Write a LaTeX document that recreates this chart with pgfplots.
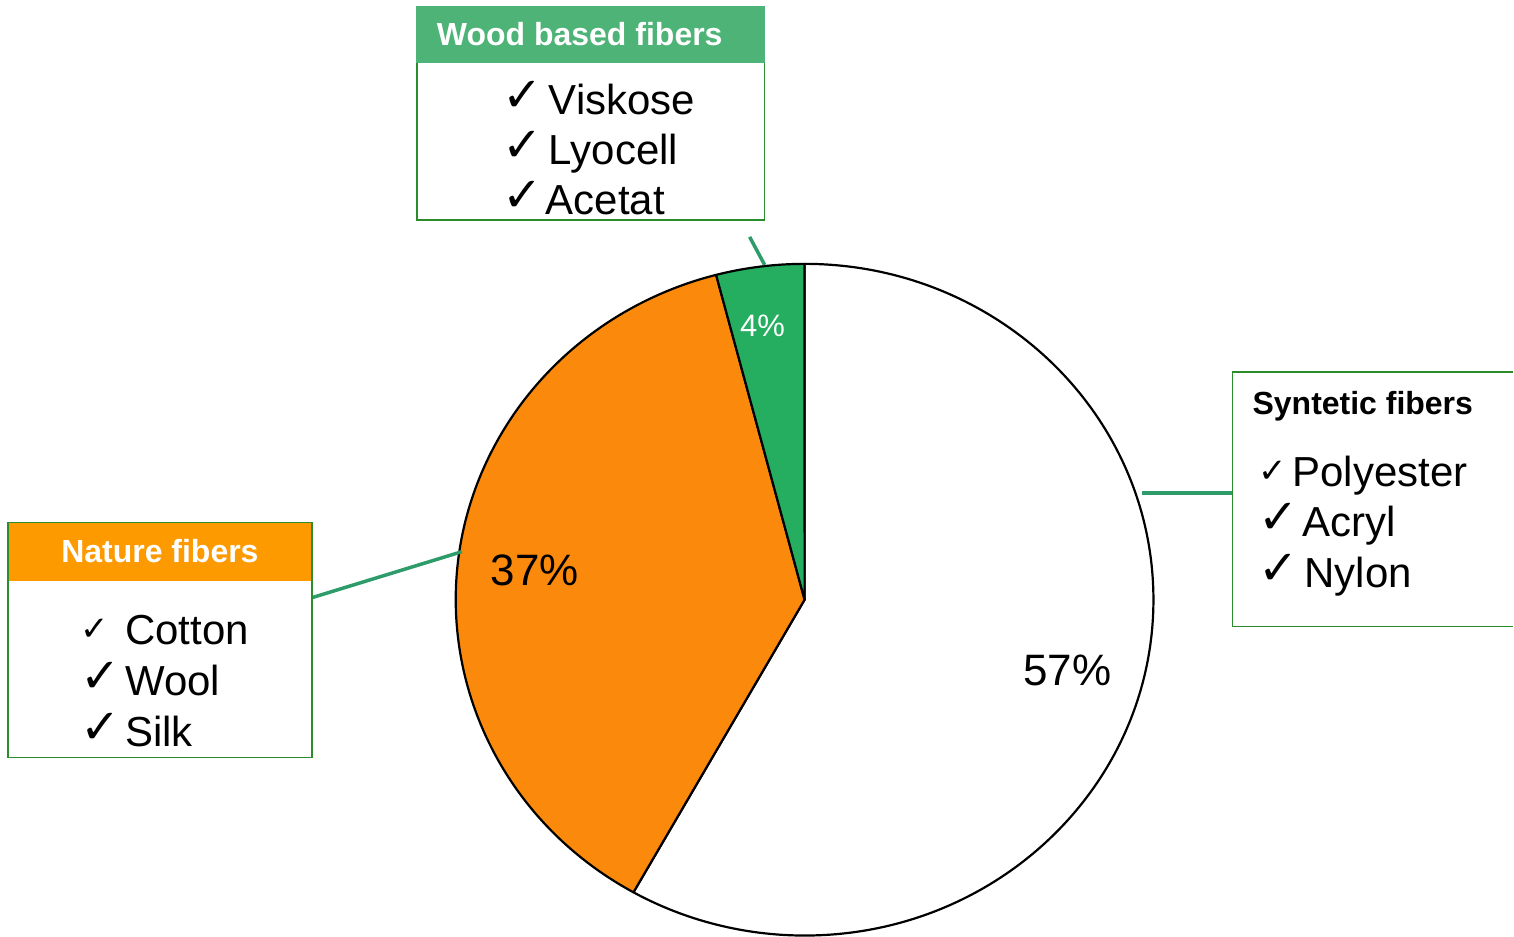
\documentclass[border=0pt]{standalone}
\usepackage{pgfplots}
\pgfplotsset{compat=1.18}
\usepackage{pgfplotstable}
\usepackage{fontspec}
\setmainfont{Liberation Sans}
\newfontfamily\symfont{DejaVu Sans}
\definecolor{pieorange}{HTML}{FB8A0C}
\definecolor{piegreen}{HTML}{25AE60}
\definecolor{headgreen}{HTML}{4DB376}
\definecolor{headorange}{HTML}{FD9A00}
\definecolor{linkgreen}{HTML}{2E9B6B}
\definecolor{boxgreen}{HTML}{2A8C2A}

\pgfplotstableread{
group share
Syntetic 57
Nature 37
Wood 4
}\piedata

\newcommand{\chk}[1]{{\symfont\fontsize{#1}{#1}\selectfont ✓}}

\begin{document}%
\pgfplotstablegetelem{0}{share}\of\piedata \let\sA\pgfplotsretval%
\pgfplotstablegetelem{1}{share}\of\piedata \let\sB\pgfplotsretval%
\pgfplotstablegetelem{2}{share}\of\piedata \let\sC\pgfplotsretval%
\pgfmathsetmacro\tot{\sA+\sB+\sC}%
\pgfmathsetmacro\aA{90-\sA/\tot*360}%
\pgfmathsetmacro\aB{\aA-\sB/\tot*360}%
\pgfmathsetmacro\aC{\aB-\sC/\tot*360}%
\begin{tikzpicture}
\begin{axis}[x=1pt,y=1pt,xmin=0,xmax=1514,ymin=0,ymax=937,hide axis,clip=false]
% pie wedges
\filldraw[fill=white,draw=black,line width=2.2pt,line join=round]
  (axis cs:805,337) -- ++(90:349pt and 336pt)
  arc[start angle=90,end angle=\aA,x radius=349pt,y radius=336pt] -- cycle;
\filldraw[fill=pieorange,draw=black,line width=2.2pt,line join=round]
  (axis cs:805,337) -- ++(\aA:349pt and 336pt)
  arc[start angle=\aA,end angle=\aB,x radius=349pt,y radius=336pt] -- cycle;
\filldraw[fill=piegreen,draw=black,line width=2.2pt,line join=round]
  (axis cs:805,337) -- ++(\aB:349pt and 336pt)
  arc[start angle=\aB,end angle=\aC,x radius=349pt,y radius=336pt] -- cycle;
% percent labels
\node[anchor=base,font=\fontsize{31}{31}\selectfont,text=white,inner sep=0pt] at (axis cs:763,600) {4\%};
\node[anchor=base,font=\fontsize{44}{44}\selectfont,inner sep=0pt] at (axis cs:535,351) {37\%};
\node[anchor=base,font=\fontsize{44}{44}\selectfont,inner sep=0pt] at (axis cs:1068,251) {57\%};
% connectors
\draw[linkgreen,line width=3.5pt] (axis cs:750,700) -- (axis cs:765,672);
\draw[linkgreen,line width=3.5pt] (axis cs:312,339) -- (axis cs:462,385);
\draw[linkgreen,line width=3.5pt] (axis cs:1143,444) -- (axis cs:1233,444);
% Wood box
\draw[boxgreen,line width=1.5pt,fill=white] (axis cs:417,899) rectangle (axis cs:765,717);
\fill[headgreen] (axis cs:416.5,931) rectangle (axis cs:765.5,874);
\node[anchor=base west,inner sep=0pt,text=white,font=\bfseries\fontsize{32}{32}\selectfont] at (axis cs:437,891) {Wood based fibers};
\node[anchor=base west,inner sep=0pt] at (axis cs:503,825) {\chk{48}};
\node[anchor=base west,inner sep=0pt,font=\fontsize{42}{42}\selectfont] at (axis cs:549,822) {Viskose};
\node[anchor=base west,inner sep=0pt] at (axis cs:503,775) {\chk{48}};
\node[anchor=base west,inner sep=0pt,font=\fontsize{42}{42}\selectfont] at (axis cs:549,772) {Lyocell};
\node[anchor=base west,inner sep=0pt] at (axis cs:503,725) {\chk{48}};
\node[anchor=base west,inner sep=0pt,font=\fontsize{42}{42}\selectfont] at (axis cs:546,722) {Acetat};
% Nature box
\draw[boxgreen,line width=1.5pt,fill=white] (axis cs:8,414) rectangle (axis cs:312,179);
\fill[headorange] (axis cs:8.75,413.25) rectangle (axis cs:311.25,356);
\node[anchor=base,inner sep=0pt,text=white,font=\bfseries\fontsize{32}{32}\selectfont] at (axis cs:160,374) {Nature fibers};
\node[anchor=base west,inner sep=0pt] at (axis cs:80,296) {\chk{34}};
\node[anchor=base west,inner sep=0pt,font=\fontsize{42}{42}\selectfont] at (axis cs:125,292) {Cotton};
\node[anchor=base west,inner sep=0pt] at (axis cs:80,244) {\chk{48}};
\node[anchor=base west,inner sep=0pt,font=\fontsize{42}{42}\selectfont] at (axis cs:125,241) {Wool};
\node[anchor=base west,inner sep=0pt] at (axis cs:80,193) {\chk{48}};
\node[anchor=base west,inner sep=0pt,font=\fontsize{42}{42}\selectfont] at (axis cs:125,190) {Silk};
% Syntetic box
\fill[white] (axis cs:1233,565) rectangle (axis cs:1514,310);
\draw[boxgreen,line width=1.5pt] (axis cs:1514,565) -| (axis cs:1233,310) -- (axis cs:1514,310);
\node[anchor=base west,inner sep=0pt,font=\bfseries\fontsize{32}{32}\selectfont] at (axis cs:1253,522) {Syntetic fibers};
\node[anchor=base west,inner sep=0pt] at (axis cs:1259,454) {\chk{34}};
\node[anchor=base west,inner sep=0pt,font=\fontsize{42}{42}\selectfont] at (axis cs:1293,450) {Polyester};
\node[anchor=base west,inner sep=0pt] at (axis cs:1259,403) {\chk{48}};
\node[anchor=base west,inner sep=0pt,font=\fontsize{42}{42}\selectfont] at (axis cs:1303,400) {Acryl};
\node[anchor=base west,inner sep=0pt] at (axis cs:1259,352) {\chk{48}};
\node[anchor=base west,inner sep=0pt,font=\fontsize{42}{42}\selectfont] at (axis cs:1305,349) {Nylon};
\path (axis cs:0,0) (axis cs:1514,937);
\end{axis}
\end{tikzpicture}%
\end{document}
